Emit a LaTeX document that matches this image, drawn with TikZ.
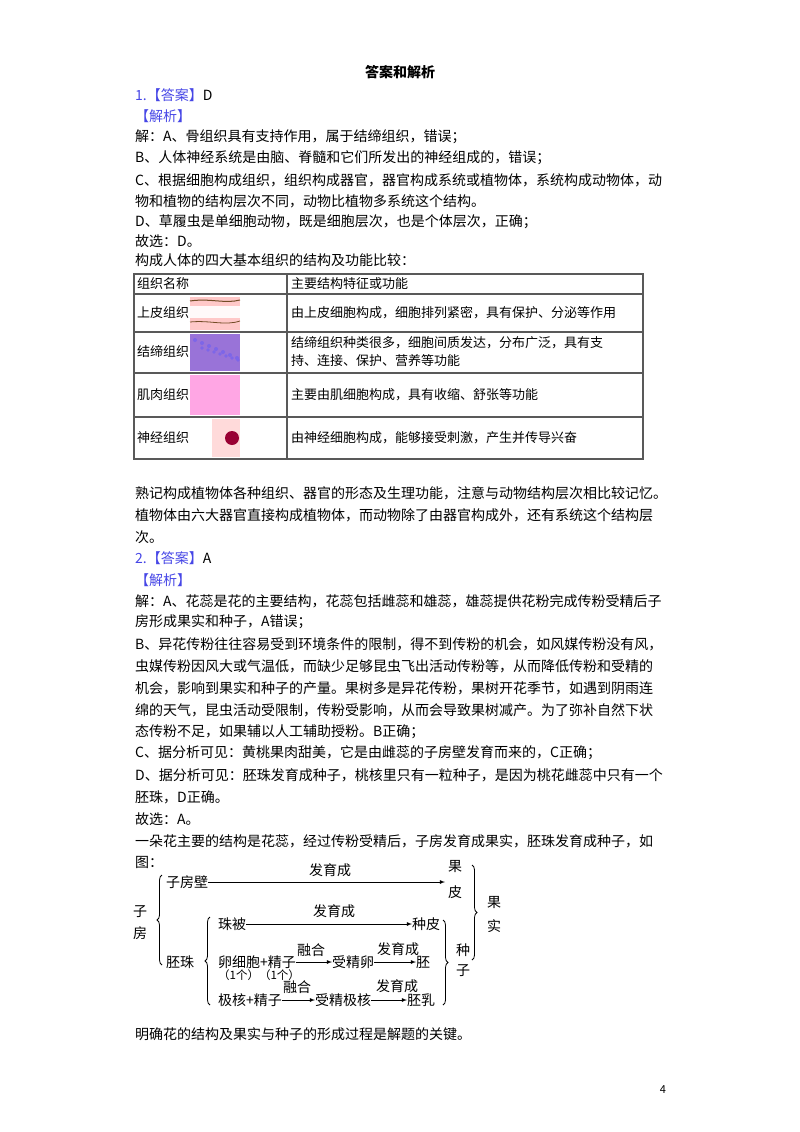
\documentclass[tikz,border=0pt]{standalone}
\usepackage{fontspec}
\setmainfont{Noto Sans CJK SC}
\usetikzlibrary{decorations.pathreplacing}
\definecolor{ans}{RGB}{70,70,230}
\begin{document}
\begin{tikzpicture}[x=1pt,y=-1pt,
  every node/.style={inner sep=0pt,font=\fontsize{14}{17}\selectfont},
  ln/.style={anchor=west},
  tb/.style={anchor=west,font=\fontsize{13}{16}\selectfont},
  sm/.style={font=\fontsize{11.5}{14}\selectfont},
  arr/.style={-latex,line width=0.8pt},
  br/.style={decorate,decoration={brace,amplitude=5pt},line width=0.8pt}]
\useasboundingbox (0,0) rectangle (800,1132);
\node[font=\fontsize{14}{17}\selectfont\bfseries] (t) at (400,72) {答案和解析};
\node[ln] (l1) at (135,95) {\textcolor{ans}{1.【答案】}D};
\node[ln,text=ans] (l2) at (135,116) {【解析】};
\node[ln] (l3) at (135,137) {解：A、骨组织具有支持作用，属于结缔组织，错误；};
\node[ln] (l4) at (135,158) {B、人体神经系统是由脑、脊髓和它们所发出的神经组成的，错误；};
\node[ln] (l5) at (135,180) {C、根据细胞构成组织，组织构成器官，器官构成系统或植物体，系统构成动物体，动};
\node[ln] (l6) at (135,201) {物和植物的结构层次不同，动物比植物多系统这个结构。};
\node[ln] (l7) at (135,222) {D、草履虫是单细胞动物，既是细胞层次，也是个体层次，正确；};
\node[ln] (l8) at (135,241) {故选：D。};
\node[ln] (l9) at (135,260) {构成人体的四大基本组织的结构及功能比较：};
% table
\draw[line width=1.2pt,gray!70!black] (134,274) rectangle (643,459);
\foreach \y in {294,332,373,417}{\draw[line width=1.2pt,gray!70!black] (134,\y) -- (643,\y);}
\draw[line width=1.2pt,gray!70!black] (287,274) -- (287,459);
\node[tb] (h1) at (137,284) {组织名称};
\node[tb] (h2) at (291,284) {主要结构特征或功能};
\node[tb] (r1) at (137,313) {上皮组织};
\node[tb] (r2) at (137,352) {结缔组织};
\node[tb] (r3) at (137,395) {肌肉组织};
\node[tb] (r4) at (137,438) {神经组织};
\node[tb] (d1) at (291,313) {由上皮细胞构成，细胞排列紧密，具有保护、分泌等作用};
\node[tb,align=left,font=\fontsize{13}{18}\selectfont] (d2) at (291,352) {结缔组织种类很多，细胞间质发达，分布广泛，具有支\\持、连接、保护、营养等功能};
\node[tb] (d3) at (291,395) {主要由肌细胞构成，具有收缩、舒张等功能};
\node[tb] (d4) at (291,438) {由神经细胞构成，能够接受刺激，产生并传导兴奋};
% images
\fill[red!15!pink!60] (190,297) rectangle (240,330);
\fill[white!90!pink] (190,306) rectangle (240,318);
\draw[brown!60!black,line width=1pt] (190,301) .. controls (210,298) and (225,304) .. (240,300);
\draw[brown!60!black,line width=0.8pt] (190,322) .. controls (210,320) and (225,326) .. (240,321);
\fill[blue!45!violet!55] (190,334) rectangle (240,371);
\foreach \i in {0,...,6}{\fill[blue!70!violet!60] (195+7*\i,340+3*\i) circle (2);\fill[blue!70!violet!60] (238-6*\i,360-2*\i) circle (1.8);}
\fill[red!30!magenta!35] (190,375) rectangle (240,415);
\fill[red!15!pink!40] (190,419) rectangle (240,457);
\fill[white] (190,419) rectangle (212,457);
\fill[purple!80!black] (232,438) circle (7);
\node[ln] (p1) at (135,493) {熟记构成植物体各种组织、器官的形态及生理功能，注意与动物结构层次相比较记忆。};
\node[ln] (p2) at (135,515) {植物体由六大器官直接构成植物体，而动物除了由器官构成外，还有系统这个结构层};
\node[ln] (p3) at (135,537) {次。};
\node[ln] (q1) at (135,558) {\textcolor{ans}{2.【答案】}A};
\node[ln,text=ans] (q2) at (135,580) {【解析】};
\node[ln] (q3) at (135,601) {解：A、花蕊是花的主要结构，花蕊包括雌蕊和雄蕊，雄蕊提供花粉完成传粉受精后子};
\node[ln] (q4) at (135,622) {房形成果实和种子，A错误；};
\node[ln] (q5) at (135,644) {B、异花传粉往往容易受到环境条件的限制，得不到传粉的机会，如风媒传粉没有风，};
\node[ln] (q6) at (135,666) {虫媒传粉因风大或气温低，而缺少足够昆虫飞出活动传粉等，从而降低传粉和受精的};
\node[ln] (q7) at (135,688) {机会，影响到果实和种子的产量。果树多是异花传粉，果树开花季节，如遇到阴雨连};
\node[ln] (q8) at (135,710) {绵的天气，昆虫活动受限制，传粉受影响，从而会导致果树减产。为了弥补自然下状};
\node[ln] (q9) at (135,732) {态传粉不足，如果辅以人工辅助授粉。B正确；};
\node[ln] (q10) at (135,753) {C、据分析可见：黄桃果肉甜美，它是由雌蕊的子房壁发育而来的，C正确；};
\node[ln] (q11) at (135,775) {D、据分析可见：胚珠发育成种子，桃核里只有一粒种子，是因为桃花雌蕊中只有一个};
\node[ln] (q12) at (135,797) {胚珠，D正确。};
\node[ln] (q13) at (135,819) {故选：A。};
\node[ln] (q14) at (135,841) {一朵花主要的结构是花蕊，经过传粉受精后，子房发育成果实，胚珠发育成种子，如};
\node[ln] (q15) at (135,862) {图：};
% diagram
\node (zf) at (140,912) {子};
\node (zf2) at (140,933) {房};
\draw[br] (162,965) -- (162,875);
\node[ln] (zfb) at (166,882) {子房壁};
\node (gp1) at (455,867) {果};
\node (gp2) at (455,892) {皮};
\draw[arr] (zfb.east) -- (445,882) coordinate (e1);
\node (f1) at (330,870) {发育成};
\node[ln] (pz) at (166,962) {胚珠};
\draw[br] (210,1005) -- (210,917);
\node[ln] (zb) at (218,924) {珠被};
\node[ln] (zp) at (412,924) {种皮};
\draw[arr] (zb.east) -- (zp.west);
\node (f2) at (334,911) {发育成};
\node[ln] (lx) at (218,962) {卵细胞+精子};
\node[ln,sm] (g1) at (218,975) {（1个）（1个）};
\node[ln] (sjl) at (332,962) {受精卵};
\draw[arr] (lx.east) -- (sjl.west);
\node (rh1) at (311,950) {融合};
\node[ln] (pei) at (416,962) {胚};
\draw[arr] (sjl.east) -- (pei.west);
\node (f3) at (398,949) {发育成};
\node[ln] (jh) at (218,1000) {极核+精子};
\node[ln] (sjh) at (315,1000) {受精极核};
\draw[arr] (jh.east) -- (sjh.west);
\node (rh2) at (297,987) {融合};
\node[ln] (pr) at (407,1000) {胚乳};
\draw[arr] (sjh.east) -- (pr.west);
\node (f4) at (397,986) {发育成};
\draw[br] (443,920) -- (443,1005);
\node (zz1) at (463,950) {种};
\node (zz2) at (463,971) {子};
\draw[br] (472,865) -- (472,960);
\node (gs1) at (494,903) {果};
\node (gs2) at (494,926) {实};
\node[ln] (end) at (135,1034) {明确花的结构及果实与种子的形成过程是解题的关键。};
\node[font=\fontsize{11}{13}\selectfont] (pg) at (663,1090) {4};
\end{tikzpicture}
\end{document}
